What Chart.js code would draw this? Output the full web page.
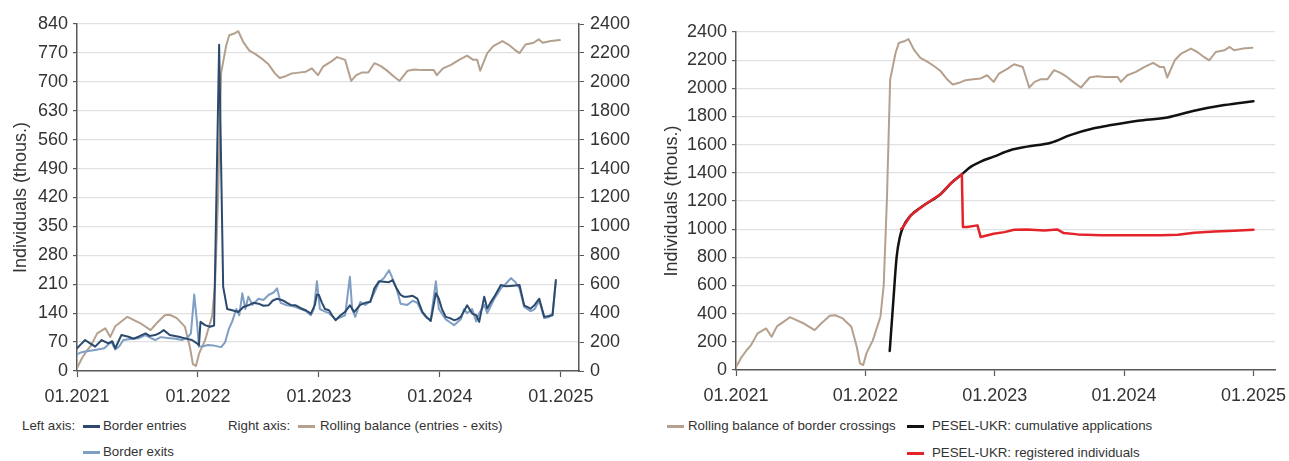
<!DOCTYPE html>
<html>
<head>
<meta charset="utf-8">
<script src="https://cdn.jsdelivr.net/npm/chart.js@4"></script>
<style>
  html, body { margin:0; padding:0; background:#fff; }
  #wrap { position:relative; width:1289px; height:461px; overflow:hidden; font-family:"Liberation Sans", Arial, sans-serif; color:#333; }
  canvas { position:absolute; top:0; }
  .lg { position:absolute; font-size:13.3px; line-height:16px; white-space:nowrap; color:#333; }
  .sw { position:absolute; height:3px; width:17px; }
</style>
</head>
<body>
<div id="wrap">
  <canvas id="c1" width="650" height="405" style="left:0px"></canvas>
  <canvas id="c2" width="639" height="405" style="left:650px"></canvas>

  <div class="lg" style="left:22px; top:418px;">Left axis:</div>
  <div class="sw" style="left:83px; top:425px; background:#2C4A6E;"></div>
  <div class="lg" style="left:103px; top:418px;">Border entries</div>
  <div class="sw" style="left:83px; top:451px; background:#7F9EC4;"></div>
  <div class="lg" style="left:103px; top:444px;">Border exits</div>
  <div class="lg" style="left:228px; top:418px;">Right axis:</div>
  <div class="sw" style="left:298px; top:425px; background:#B5A08E;"></div>
  <div class="lg" style="left:320px; top:418px;">Rolling balance (entries - exits)</div>

  <div class="sw" style="left:667px; top:425px; background:#B5A08E;"></div>
  <div class="lg" style="left:688px; top:418px;">Rolling balance of border crossings</div>
  <div class="sw" style="left:907px; top:425px; background:#111;"></div>
  <div class="lg" style="left:932px; top:418px;">PESEL-UKR: cumulative applications</div>
  <div class="sw" style="left:907px; top:452px; background:#E3242B;"></div>
  <div class="lg" style="left:932px; top:445px;">PESEL-UKR: registered individuals</div>
</div>
<script>
// x values are months since 01.2021
const tickMonths = [0, 12, 24, 36, 48];
const tickLabels = ["01.2021", "01.2022", "01.2023", "01.2024", "01.2025"];

const leftAxisTicks = { min: 0, max: 840, step: 70 };
const rightAxisTicks = { min: 0, max: 2400, step: 200 };

const entriesMonths = [0,0.4,0.8,1.3,1.8,2.45,3.1,3.5,3.8,4.4,5.1,5.6,6.1,6.8,7.2,7.75,8.2,8.6,9.2,10.1,10.7,11.4,11.9,12.1,12.25,12.7,13.2,13.6,14.1,14.5,14.9,15.4,16.0,16.5,17.0,17.5,18.0,18.5,19.0,19.4,19.85,20.3,20.7,21.2,21.7,22.2,22.7,23.2,23.6,23.8,24.0,24.3,24.6,25.0,25.3,25.65,26.15,26.6,27.07,27.5,28.1,28.6,29.1,29.5,29.96,30.45,30.95,31.3,31.7,32.1,32.4,32.77,33.3,33.76,34.26,34.7,35.09,35.6,35.9,36.2,36.58,37.0,37.4,37.7,38.07,38.4,38.7,39.2,39.6,39.9,40.4,40.7,41.0,41.4,42.05,42.5,43.05,43.5,43.9,44.36,45.0,45.4,45.86,46.35,46.8,47.18,47.5];
const entriesValues = [55,65,75,67,59,75,67,72,55,87,83,78,83,91,85,87,92,99,87,83,79,75,67,62,119,111,107,110,790,204,150,147,143,155,159,165,163,158,159,170,175,172,167,160,159,152,147,139,160,185,184,165,150,147,135,123,135,143,159,143,160,165,167,200,217,216,215,220,200,184,180,180,182,175,143,130,121,188,175,150,131,128,123,125,131,145,159,139,135,119,180,151,165,180,208,205,206,207,208,159,151,160,175,131,133,135,220];

const exitsMonths = [0,0.4,0.8,1.8,2.7,3.4,3.8,4.2,4.6,5.5,6.1,6.76,7.3,7.75,8.3,9.0,9.8,10.4,11.0,11.3,11.63,11.9,12.1,12.5,13.0,13.5,14.05,14.3,14.7,15.04,15.4,15.8,16.1,16.4,16.7,17.0,17.4,18.0,18.5,19.0,19.5,19.85,20.2,20.7,21.2,21.7,22.2,22.7,23.2,23.5,23.8,24.1,24.5,25.0,25.65,26.15,26.6,27.07,27.3,27.6,28.1,28.6,29.1,29.5,29.96,30.45,30.95,31.3,31.7,32.1,32.77,33.3,33.76,34.26,34.7,35.09,35.6,35.9,36.58,37.0,37.4,38.07,38.4,38.7,39.2,39.6,39.9,40.4,40.7,41.4,42.05,42.5,43.05,43.5,43.9,44.36,45.0,45.4,45.86,46.35,46.8,47.18,47.5];
const exitsValues = [40,45,47,51,55,71,52,60,75,78,79,87,80,75,82,80,78,75,82,91,185,119,59,60,63,62,59,58,70,100,120,150,135,188,150,180,160,175,172,184,190,200,165,160,158,155,150,145,135,150,217,150,145,140,125,130,135,228,150,131,167,160,170,190,215,225,244,224,200,163,160,170,165,140,128,125,217,150,125,118,111,125,150,140,150,120,140,160,140,175,200,210,225,215,200,155,145,150,170,128,130,140,215];

const balanceMonths = [0,0.5,1.0,1.4,2.0,2.8,3.3,3.8,4.4,5.0,5.6,6.3,7.3,7.9,8.7,9.2,9.9,10.7,11.2,11.5,11.8,12.1,12.7,13.0,13.4,13.7,14.0,14.3,14.8,15.1,15.6,16.0,16.5,17.1,17.7,18.4,19.0,19.6,20.1,20.7,21.3,21.8,22.7,23.3,23.9,24.4,25.2,25.8,26.6,27.2,27.7,28.3,28.9,29.5,30.1,30.7,31.4,32.0,32.8,33.5,34.2,34.8,35.4,35.7,36.3,37.1,37.9,38.7,39.3,39.7,40.0,40.7,41.3,42.2,42.8,43.4,43.9,44.5,45.3,45.8,46.2,47.0,47.9];
const balanceValues = [20,90,142,177,260,295,236,310,342,375,354,330,283,330,385,389,366,307,165,47,35,118,212,283,378,600,1213,2062,2251,2322,2334,2350,2275,2216,2192,2157,2121,2062,2027,2039,2058,2062,2070,2093,2046,2105,2140,2171,2152,2006,2046,2065,2065,2129,2110,2081,2039,2006,2077,2086,2081,2081,2081,2046,2093,2117,2152,2181,2152,2152,2077,2199,2247,2282,2258,2223,2199,2258,2270,2294,2270,2282,2289];

const appsMonths = [14.26,14.6,14.9,15.2,15.5,16.2,17.4,19.0,20.0,20.95,21.8,22.7,23.9,25.5,27.0,29.2,31.0,33.2,34.8,37.3,40.0,42.5,45.3,48.0];
const appsValues = [135,496,802,944,1015,1097,1168,1250,1330,1390,1444,1480,1515,1562,1586,1614,1668,1716,1739,1770,1793,1841,1881,1909];

const registeredMonths = [15.3,15.5,16.2,17.4,19.0,20.0,20.95,21.05,21.45,22.4,22.7,23.9,24.9,25.8,27.0,28.6,29.8,30.4,31.7,33.9,37.0,39.4,41.0,42.5,44.4,46.2,48.0];
const registeredValues = [1000,1015,1097,1168,1250,1330,1390,1015,1015,1027,944,968,979,996,998,991,998,972,963,956,956,956,960,975,984,989,996];

const pts = (xs, ys) => xs.map((x, i) => ({ x: x, y: ys[i] }));

Chart.defaults.font.family = '"Liberation Sans", Arial, sans-serif';
Chart.defaults.color = '#333';

const axisColor = '#595959';
const gridColor = '#e1e1e1';

function xScale(maxMonth, h) {
  return {
    type: 'linear', min: 0, max: maxMonth,
    afterBuildTicks: s => { s.ticks = tickMonths.map(v => ({ value: v })); },
    ticks: {
      callback: v => { const i = tickMonths.indexOf(v); return i >= 0 ? tickLabels[i] : ''; },
      font: { size: 18 }, color: '#333', padding: 9, maxRotation: 0, autoSkip: false
    },
    grid: { drawOnChartArea: false, drawTicks: true, tickLength: 6, tickColor: axisColor, tickWidth: 1.2 },
    border: { color: axisColor, width: 1.5 },
    afterFit: s => { s.height = h; s.paddingLeft = 0; s.paddingRight = 0; }
  };
}

function yScale(pos, cfg, width, withGrid, title, titlePad) {
  const sc = {
    type: 'linear', position: pos, min: cfg.min, max: cfg.max,
    ticks: { stepSize: cfg.step, font: { size: 18 }, color: '#333', padding: pos === 'left' ? 5 : 6, callback: v => String(v) },
    grid: withGrid
      ? { color: gridColor, lineWidth: 1.2, drawTicks: true, tickLength: 4, tickColor: axisColor }
      : { drawOnChartArea: false, drawTicks: true, tickLength: 5, tickColor: axisColor },
    border: { color: axisColor, width: 1.5 },
    afterFit: s => { s.width = width; }
  };
  if (title) {
    sc.title = { display: true, text: title, font: { size: 18 }, color: '#333', padding: { top: titlePad, bottom: 0 } };
  }
  return sc;
}

const common = {
  responsive: false, animation: false, devicePixelRatio: 1,
  plugins: { legend: { display: false }, tooltip: { enabled: false } },
  elements: { point: { radius: 0 }, line: { borderCapStyle: 'round', borderJoinStyle: 'round' } }
};

new Chart(document.getElementById('c1'), {
  type: 'line',
  data: {
    datasets: [
      { label: 'Border entries', data: pts(entriesMonths, entriesValues), borderColor: '#2C4A6E', borderWidth: 2, yAxisID: 'y' },
      { label: 'Border exits', data: pts(exitsMonths, exitsValues), borderColor: '#7F9EC4', borderWidth: 2, yAxisID: 'y' },
      { label: 'Rolling balance (entries - exits)', data: pts(balanceMonths, balanceValues), borderColor: '#B5A08E', borderWidth: 2, yAxisID: 'y2' }
    ]
  },
  options: Object.assign({}, common, {
    layout: { padding: { top: 24, left: 0, right: 0, bottom: 0 } },
    scales: {
      x: xScale(49.8, 34),
      y: yScale('left', leftAxisTicks, 77, true, 'Individuals (thous.)', 10),
      y2: yScale('right', rightAxisTicks, 71, false, null, 0)
    }
  })
});

new Chart(document.getElementById('c2'), {
  type: 'line',
  data: {
    datasets: [
      { label: 'PESEL-UKR: registered individuals', data: pts(registeredMonths, registeredValues), borderColor: '#E3242B', borderWidth: 2.5 },
      { label: 'PESEL-UKR: cumulative applications', data: pts(appsMonths, appsValues), borderColor: '#111111', borderWidth: 2.5, cubicInterpolationMode: 'monotone' },
      { label: 'Rolling balance of border crossings', data: pts(balanceMonths, balanceValues), borderColor: '#B5A08E', borderWidth: 2 }
    ]
  },
  options: Object.assign({}, common, {
    layout: { padding: { top: 32, left: 0, right: 14, bottom: 0 } },
    scales: {
      x: xScale(50, 35),
      y: yScale('left', rightAxisTicks, 86, true, 'Individuals (thous.)', 11)
    }
  })
});
</script>
</body>
</html>
